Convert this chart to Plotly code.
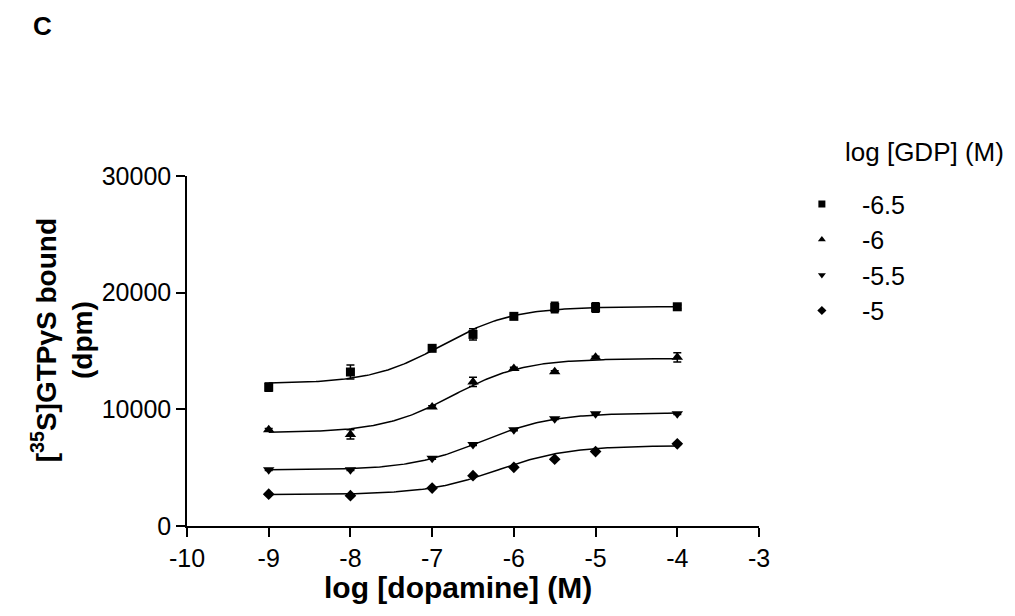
import numpy as np
import plotly.graph_objects as go

# ---- data ----
log_dopamine = [-9, -8, -7, -6.5, -6, -5.5, -5, -4]
series_names = ["-6.5", "-6", "-5.5", "-5"]

gdp_m65 = [11900, 13200, 15230, 16420, 17970, 18730, 18730, 18790]
gdp_m60 = [8250, 7850, 10200, 12350, 13510, 13215, 14455, 14455]
gdp_m55 = [4830, 4830, 5800, 6980, 8250, 9200, 9630, 9630]
gdp_m50 = [2730, 2600, 3250, 4310, 5030, 5720, 6380, 7040]

err_m65 = [350, 600, 150, 480, 150, 450, 400, 150]
err_m60 = [100, 390, 100, 400, 100, 100, 100, 400]
err_m55 = [80, 80, 80, 80, 80, 80, 80, 80]
err_m50 = [60, 60, 60, 60, 60, 60, 60, 60]

# sigmoidal fit parameters (bottom, top, logEC50)
fit_bottom = [12200, 8000, 4800, 2700]
fit_top = [18800, 14350, 9700, 6880]
fit_logec50 = [-6.88, -6.75, -6.40, -6.20]

x_ticks = [-10, -9, -8, -7, -6, -5, -4, -3]
y_ticks = [0, 10000, 20000, 30000]

symbols = ["square", "triangle-up", "triangle-down", "diamond"]
sizes = [9, 10, 10, 9]
values = [gdp_m65, gdp_m60, gdp_m55, gdp_m50]
errors = [err_m65, err_m60, err_m55, err_m50]

FONT = "Liberation Sans, Arial, sans-serif"

fig = go.Figure()
xfit = np.linspace(min(log_dopamine), max(log_dopamine), 200)
for i in range(4):
    yfit = fit_bottom[i] + (fit_top[i] - fit_bottom[i]) / (1 + 10 ** (fit_logec50[i] - xfit))
    fig.add_trace(go.Scatter(x=xfit, y=yfit, mode="lines",
                             line=dict(color="black", width=1.5),
                             showlegend=False, hoverinfo="skip"))
for i in range(4):
    fig.add_trace(go.Scatter(
        x=log_dopamine, y=values[i], mode="markers", name=series_names[i],
        marker=dict(symbol=symbols[i], size=sizes[i], color="black"),
        error_y=dict(type="data", array=errors[i], visible=True,
                     color="black", thickness=1.5, width=4),
        showlegend=False,
    ))
# legend entries (small symbols, as in the reference legend)
for i in range(4):
    fig.add_trace(go.Scatter(
        x=[None], y=[None], mode="markers", name=series_names[i],
        marker=dict(symbol=symbols[i], size=7, color="black"),
        showlegend=True,
    ))

fig.update_layout(
    width=1015, height=616,
    margin=dict(l=179, r=264, t=168, b=98),
    paper_bgcolor="white", plot_bgcolor="white",
    font=dict(family=FONT, color="black", size=25),
    showlegend=True,
    legend=dict(x=1.040, y=0.985, xanchor="left", yanchor="top",
                font=dict(size=25, family=FONT),
                itemsizing="trace", itemwidth=70,
                bgcolor="rgba(0,0,0,0)"),
    xaxis=dict(range=[-10, -3], tickvals=x_ticks, ticktext=[str(v) for v in x_ticks],
               showgrid=False, zeroline=False, showline=True, linecolor="black",
               linewidth=1.5, ticks="outside", ticklen=9, tickwidth=1.5,
               tickcolor="black", tickfont=dict(size=25)),
    yaxis=dict(range=[0, 30000], tickvals=y_ticks, ticktext=[str(v) for v in y_ticks],
               showgrid=False, zeroline=False, showline=True, linecolor="black",
               linewidth=1.5, ticks="outside", ticklen=9, tickwidth=1.5,
               tickcolor="black", tickfont=dict(size=25)),
    annotations=[
        dict(text="<b>C</b>", xref="paper", yref="paper", x=-0.273, y=1.4286,
             xanchor="left", yanchor="middle", showarrow=False,
             font=dict(size=26, family=FONT)),
        dict(text="log [GDP] (M)", xref="paper", yref="paper", x=1.147, y=1.0686,
             xanchor="left", yanchor="middle", showarrow=False,
             font=dict(size=26, family=FONT)),
        dict(text="<b>log [dopamine] (M)</b>", xref="paper", yref="paper",
             x=0.474, y=-0.177, xanchor="center", yanchor="middle",
             showarrow=False, font=dict(size=30, family=FONT)),
        dict(text="<b>[<sup>35</sup>S]GTPγS bound<br>(dpm)</b>", xref="paper",
             yref="paper", x=-0.219, y=0.53, xanchor="center", yanchor="middle",
             textangle=-90, showarrow=False, font=dict(size=28, family=FONT)),
    ],
)

fig.write_html("out.html")
